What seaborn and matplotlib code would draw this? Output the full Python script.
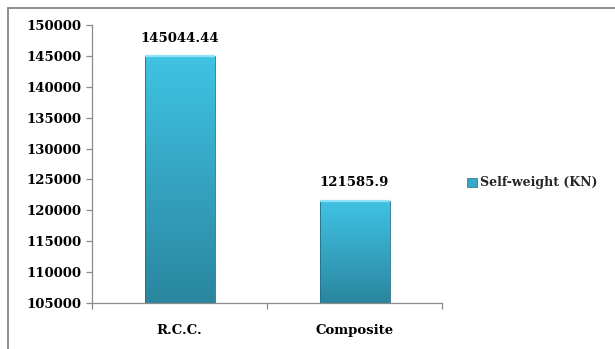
import numpy as np
import pandas as pd
import seaborn as sns
import matplotlib.pyplot as plt
from matplotlib.lines import Line2D
from matplotlib.colors import LinearSegmentedColormap

# Data
categories = ["R.C.C.", "Composite"]
self_weight = [145044.44, 121585.9]
series_name = "Self-weight (KN)"
y_ticks = list(range(105000, 150001, 5000))

df = pd.DataFrame({"structure": categories, "weight": self_weight,
                   "series": [series_name] * len(categories)})

sns.set_theme(style="white")
plt.rcParams["font.family"] = ["DejaVu Serif"]
plt.rcParams["font.weight"] = "bold"

fig = plt.figure(figsize=(6.15, 3.49), dpi=100)
ax = fig.add_axes([92 / 615, 1 - 303 / 349, 350 / 615, 278 / 349])

bar_top = "#40c3e4"
bar_bottom = "#2a869f"
sns.barplot(data=df, x="structure", y="weight", hue="series",
            palette=[bar_top], width=0.4, ax=ax, legend=True)

y_min, y_max = 105000, 150000
ax.set_ylim(y_min, y_max)
ax.set_yticks(y_ticks)
ax.set_yticklabels([str(t) for t in y_ticks])
ax.set_xlim(-0.5, 1.5)
ax.set_xlabel("")
ax.set_ylabel("")

# Vertical gradient fill inside each bar (visible part above the axis floor)
cmap = LinearSegmentedColormap.from_list("bar", [bar_bottom, bar_top])
grad = np.linspace(0, 1, 256).reshape(-1, 1)
for patch in list(ax.patches):
    x0, y0 = patch.get_x(), patch.get_y()
    w, h = patch.get_width(), patch.get_height()
    if w == 0 or h == 0:
        continue
    top = y0 + h
    ax.imshow(grad, cmap=cmap, origin="lower", aspect="auto",
              extent=[x0, x0 + w, y_min, top], zorder=2,
              interpolation="bilinear")
    patch.set_facecolor("none")
    patch.set_edgecolor("#1f6f86")
    patch.set_linewidth(0.6)
    patch.set_zorder(3)
    # light bevel along the top edge
    ax.plot([x0, x0 + w], [top, top], color="#8fe3f5", lw=1.6,
            zorder=4, solid_capstyle="butt")

ax.set_xlim(-0.5, 1.5)
ax.set_ylim(y_min, y_max)

# Value labels
ax.bar_label(ax.containers[0], labels=[f"{v}" for v in self_weight],
             padding=8, fontsize=9.5, fontweight="bold", color="black")

# Axes styling
axis_color = "#8a8a8a"
for side in ["top", "right"]:
    ax.spines[side].set_visible(False)
for side in ["left", "bottom"]:
    ax.spines[side].set_color(axis_color)
    ax.spines[side].set_linewidth(0.9)
    ax.spines[side].set_zorder(5)

ax.tick_params(axis="y", which="major", length=4.5, width=0.9, color=axis_color,
               pad=3, labelsize=9.5, labelcolor="black", left=True)
ax.set_xticks([-0.5, 0.5, 1.5], minor=True)
ax.tick_params(axis="x", which="minor", length=4, width=0.9, color=axis_color,
               bottom=True)
ax.tick_params(axis="x", which="major", length=0, pad=15, labelsize=9.5,
               labelcolor="black")
for lbl in ax.get_xticklabels() + ax.get_yticklabels():
    lbl.set_fontweight("bold")

# Legend on the right
leg = ax.get_legend()
if leg is not None:
    leg.remove()
handle = plt.Rectangle((0, 0), 1, 1, facecolor="#35a9c9", edgecolor="#1f6f86",
                       linewidth=0.5)
fig.legend([handle], [series_name], loc="center left",
           bbox_to_anchor=(456 / 615, 1 - 183 / 349), frameon=False,
           handlelength=0.75, handleheight=0.75, handletextpad=0.25,
           prop={"family": "DejaVu Serif", "weight": "bold", "size": 9})

# Chart-area border
border = "#8c8c8c"
fig.add_artist(Line2D([8 / 615, 1.0], [1 - 7.5 / 349, 1 - 7.5 / 349],
                      transform=fig.transFigure, color=border, lw=1.4))
fig.add_artist(Line2D([8 / 615, 8 / 615], [0.0, 1 - 7.5 / 349],
                      transform=fig.transFigure, color=border, lw=1.4))

fig.savefig("out.png", dpi=100)
